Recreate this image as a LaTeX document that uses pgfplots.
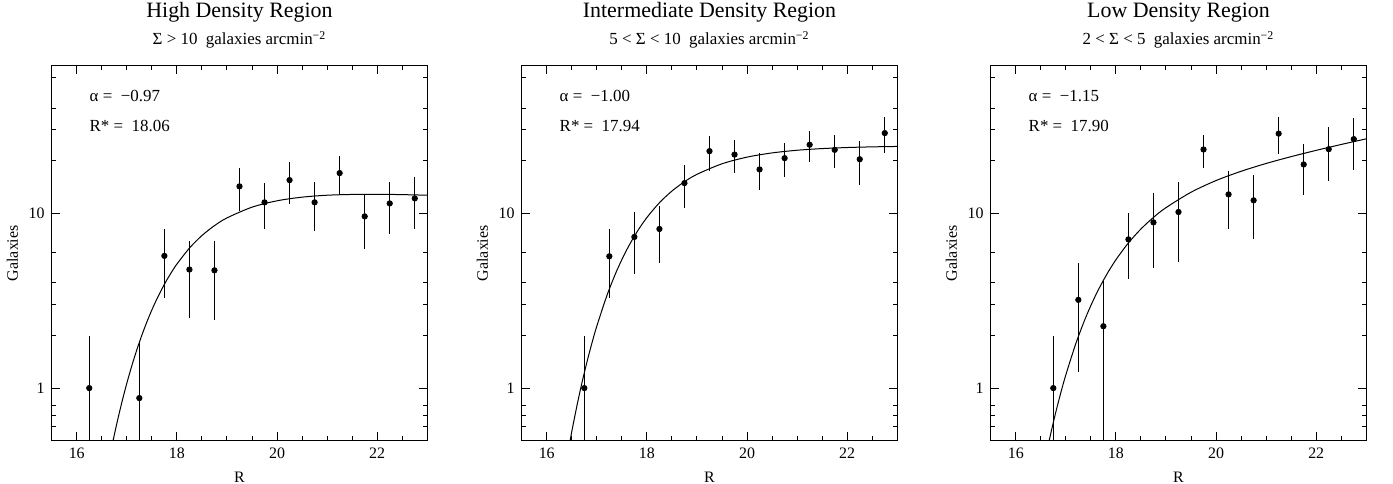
\documentclass[border=0pt]{standalone}
\usepackage{fontspec}
\setmainfont{Liberation Serif}
\usepackage{pgfplots}
\usepackage{pgfplotstable}
\pgfplotsset{compat=1.18}

% measured counts, with upper / lower error
\pgfplotstableread{
x     y      ep    em
16.25 1.00   1.00  0.99
17.25 0.877  0.99  0.87
17.75 5.71   2.39  2.44
18.25 4.77   2.21  2.24
18.75 4.72   2.26  2.28
19.25 14.27  3.81  3.96
19.75 11.56  3.35  3.46
20.25 15.5   4.06  4.14
20.75 11.56  3.54  3.60
21.25 17.0   4.3   4.3
21.75 9.61   3.09  3.33
22.25 11.4   3.8   3.78
22.75 12.18  3.92  4.08
}\highpts
\pgfplotstableread{
x     y      ep    em
16.75 1.00   1.00  0.99
17.25 5.68   2.42  2.41
17.75 7.33   2.80  2.83
18.25 8.14   2.82  2.96
18.75 14.9   4.0   4.12
19.25 22.7   5.1   5.24
19.75 21.7   4.66  4.77
20.25 17.84  4.22  4.22
20.75 20.7   4.55  4.55
21.25 24.7   4.97  4.97
21.75 23.1   4.81  4.81
22.25 20.4   5.7   5.8
22.75 28.8   6.7   6.6
}\midpts
\pgfplotstableread{
x     y      ep    em
16.75 1.00   1.00  0.99
17.25 3.20   1.98  1.97
17.75 2.26   1.85  2.20
18.25 7.10   2.90  2.90
18.75 8.88   4.13  4.01
19.25 10.18  4.99  4.93
19.75 23.2   4.8   5.1
20.25 12.84  4.62  4.74
20.75 11.87  4.73  4.77
21.25 28.6   6.8   6.7
21.75 19.05  6.05  6.25
22.25 23.3   7.8   8.0
22.75 26.6   8.5   8.8
}\lowpts

% Schechter fits, tabulated
\pgfplotstableread{
x     y
16.6  0.330
16.7  0.462
16.8  0.626
16.9  0.827
17.0  1.066
17.1  1.343
17.2  1.657
17.3  2.007
17.4  2.388
17.5  2.800
17.6  3.235
17.7  3.691
17.8  4.162
17.9  4.641
18.0  5.125
18.25 6.324
18.5  7.466
18.75 8.503
19.0  9.418
19.5  10.85
20.0  11.80
20.5  12.38
21.0  12.70
21.5  12.83
22.0  12.86
22.5  12.80
23.0  12.70
}\highfit
\pgfplotstableread{
x     y
16.4  0.392
16.5  0.564
16.6  0.785
16.7  1.063
16.8  1.399
16.9  1.800
17.0  2.263
17.2  3.377
17.4  4.710
17.6  6.207
17.8  7.816
18.0  9.465
18.25 11.50
18.5  13.42
18.75 15.17
19.0  16.73
19.5  19.22
20.0  20.98
20.5  22.18
21.0  22.97
21.5  23.48
22.0  23.81
22.5  24.02
23.0  24.15
}\midfit
\pgfplotstableread{
x     y
16.6  0.406
16.7  0.551
16.8  0.729
16.9  0.941
17.0  1.190
17.2  1.799
17.4  2.548
17.6  3.421
17.8  4.388
18.0  5.425
18.25 6.775
18.5  8.140
18.75 9.484
19.0  10.78
19.5  13.21
20.0  15.41
20.5  17.41
21.0  19.30
21.5  21.12
22.0  22.94
22.5  24.79
23.0  26.70
}\lowfit

\pgfplotsset{
  panel/.style={
    anchor=south west,
    scale only axis, width=187.8bp, height=187.5bp,
    xmin=15.5, xmax=23, ymin=0.5, ymax=70,
    xtick={16,18,20,22},
    minor xtick={16.5,17,17.5,18.5,19,19.5,20.5,21,21.5,22.5},
    ytick={1,10}, yticklabels={1,10},
    minor ytick={0.6,0.7,0.8,2,3,4,6,20,30,40,60},
    tick align=inside,
    major tick length=4.2bp, minor tick length=2.3bp,
    every tick/.style={black, line width=0.5bp},
    axis line style={line width=0.6bp},
    xlabel={R}, ylabel={Galaxies},
    ylabel shift=-1.5bp,
    tick label style={font=\fontsize{8}{9}\selectfont},
    label style={font=\fontsize{8}{9}\selectfont},
    /pgf/number format/assume math mode=true,
  },
  pts/.style={only marks, mark=*, mark size=1.35bp, black,
    error bars/.cd, y dir=both, y explicit, error mark=none,
    error bar style={line width=0.6bp, black}},
  fit/.style={no marks, smooth, black, line width=0.5bp},
}

\begin{document}
\begin{tikzpicture}
\useasboundingbox (0,0) rectangle (696.5bp,242bp);

\begin{axis}[ymode=log, panel, at={(25.85bp,21.65bp)}, name=ax1]
\addplot[fit] table[x=x,y=y] {\highfit};
\addplot[pts] table[x=x,y=y,y error plus=ep,y error minus=em] {\highpts};
\end{axis}

\begin{axis}[ymode=log, panel, at={(260.85bp,21.65bp)}, name=ax2]
\addplot[fit] table[x=x,y=y] {\midfit};
\addplot[pts] table[x=x,y=y,y error plus=ep,y error minus=em] {\midpts};
\end{axis}

\begin{axis}[ymode=log, panel, at={(495.35bp,21.65bp)}, name=ax3]
\addplot[fit] table[x=x,y=y] {\lowfit};
\addplot[pts] table[x=x,y=y,y error plus=ep,y error minus=em] {\lowpts};
\end{axis}

\foreach \ax/\ttl/\sub/\al/\rs in {
  ax1/High Density Region/Σ > 10/−0.97/18.06,
  ax2/Intermediate Density Region/5 < Σ < 10/−1.00/17.94,
  ax3/Low Density Region/2 < Σ < 5/−1.15/17.90}{
  \node[anchor=base, inner sep=0pt, font=\fontsize{11}{13}\selectfont]
    at ([yshift=23.85bp]\ax.north) {\ttl};
  \node[anchor=base, inner sep=0pt, font=\fontsize{8.5}{10}\selectfont]
    at ([yshift=10.35bp]\ax.north) {\sub\ \ galaxies arcmin\textsuperscript{−2}};
  \node[anchor=base west, inner sep=0pt, font=\fontsize{8.5}{10}\selectfont]
    at ([xshift=18.8bp,yshift=-18bp]\ax.north west) {α =\ \ \al};
  \node[anchor=base west, inner sep=0pt, font=\fontsize{8.5}{10}\selectfont]
    at ([xshift=18.8bp,yshift=-33bp]\ax.north west) {R* =\ \ \rs};
}
\end{tikzpicture}
\end{document}
